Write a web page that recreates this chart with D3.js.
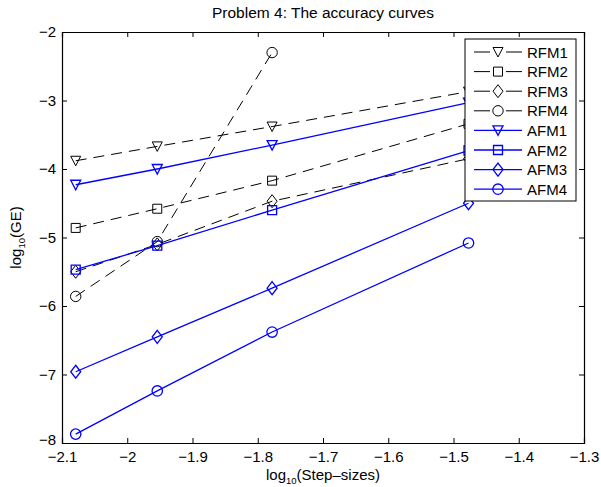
<!DOCTYPE html>
<html>
<head>
<meta charset="utf-8">
<script src="https://cdn.jsdelivr.net/npm/d3@7"></script>
<style>
  body { margin: 0; background: #fff; }
  svg { font-family: "Liberation Sans", Arial, sans-serif; }
</style>
</head>
<body>
<div id="chart"></div>
<script>
// step sizes (log10) and errors (log10)
var stepLog = [-2.079, -1.954, -1.778, -1.477];
var rfm1 = [-3.88, -3.67, -3.38, -2.87];
var rfm2 = [-4.86, -4.58, -4.17, -3.34];
var rfm3 = [-5.50, -5.10, -4.47, -3.85];
var rfm4 = [-5.86, -5.06, -2.30];
var afm1 = [-4.23, -4.00, -3.65, -3.03];
var afm2 = [-5.47, -5.12, -4.60, -3.73];
var afm3 = [-6.96, -6.45, -5.74, -4.50];
var afm4 = [-7.87, -7.24, -6.38, -5.08];
var xTicks = [-2.1, -2, -1.9, -1.8, -1.7, -1.6, -1.5, -1.4, -1.3];
var yTicks = [-8, -7, -6, -5, -4, -3, -2];

var series = [
  {name: "RFM1", vals: rfm1, marker: "tri", kind: "ref"},
  {name: "RFM2", vals: rfm2, marker: "sq", kind: "ref"},
  {name: "RFM3", vals: rfm3, marker: "dia", kind: "ref"},
  {name: "RFM4", vals: rfm4, marker: "circ", kind: "ref"},
  {name: "AFM1", vals: afm1, marker: "tri", kind: "adp"},
  {name: "AFM2", vals: afm2, marker: "sq", kind: "adp"},
  {name: "AFM3", vals: afm3, marker: "dia", kind: "adp"},
  {name: "AFM4", vals: afm4, marker: "circ", kind: "adp"}
];

var W = 601, H = 487;
var margin = {top: 32, right: 17, bottom: 44, left: 62};
var fs = 15;

var svg = d3.select("#chart").append("svg")
  .attr("width", W).attr("height", H);

var x = d3.scaleLinear().domain([-2.1, -1.3]).range([margin.left, W - margin.right]);
var y = d3.scaleLinear().domain([-8, -2]).range([H - margin.bottom, margin.top]);

var fmt = function(v) { return d3.format("")(v).replace("-", "\u2212"); };

// axes (MATLAB style box, ticks inward)
var tk = 5;
svg.append("g")
  .attr("transform", "translate(0," + y(-8) + ")")
  .call(d3.axisBottom(x).tickValues(xTicks).tickSize(-tk).tickPadding(8).tickFormat(fmt));
svg.append("g")
  .attr("transform", "translate(0," + y(-2) + ")")
  .call(d3.axisTop(x).tickValues(xTicks).tickSize(-tk).tickFormat(""));
var yAx = svg.append("g")
  .attr("transform", "translate(" + x(-2.1) + ",0)")
  .call(d3.axisLeft(y).tickValues(yTicks).tickSize(-tk).tickPadding(6).tickFormat(fmt));
svg.append("g")
  .attr("transform", "translate(" + x(-1.3) + ",0)")
  .call(d3.axisRight(y).tickValues(yTicks).tickSize(-tk).tickFormat(""));

svg.selectAll(".domain").attr("stroke", "#000").attr("stroke-width", 1.2);
svg.selectAll(".tick line").attr("stroke", "#000");
svg.selectAll(".tick text").attr("font-size", fs).attr("fill", "#000")
  .attr("font-family", "Liberation Sans, Arial, sans-serif");
// lift the lowest y label a little so it clears the first x label
yAx.selectAll(".tick text").filter(function(d) { return d == -8; }).attr("dy", "0.1em");

// marker shapes
function markerPath(type) {
  if (type == "tri") return "M-5,-4.5L5,-4.5L0,5Z";
  if (type == "sq") return "M-4.5,-4.5L4.5,-4.5L4.5,4.5L-4.5,4.5Z";
  if (type == "dia") return "M0,-6.5L5,0L0,6.5L-5,0Z";
  return d3.arc()({innerRadius: 0, outerRadius: 5.2, startAngle: 0, endAngle: 2 * Math.PI});
}
function colorOf(s) { return s.kind == "ref" ? "#000" : "#0000ff"; }

var line = d3.line()
  .x(function(d, i) { return x(stepLog[i]); })
  .y(function(d) { return y(d); });

var plot = svg.append("g");
series.forEach(function(s) {
  plot.append("path")
    .attr("d", line(s.vals))
    .attr("fill", "none")
    .attr("stroke", colorOf(s))
    .attr("stroke-width", s.kind == "ref" ? 1 : 1.3)
    .attr("stroke-dasharray", s.kind == "ref" ? "11,7" : null);
  plot.selectAll(null)
    .data(s.vals)
    .enter()
    .append("path")
    .attr("transform", function(d, i) { return "translate(" + x(stepLog[i]) + "," + y(d) + ")"; })
    .attr("d", markerPath(s.marker))
    .attr("fill", "none")
    .attr("stroke", colorOf(s))
    .attr("stroke-width", s.kind == "ref" ? 1 : 1.3);
});

// legend
var lg = svg.append("g").attr("transform", "translate(465,39)");
lg.append("rect").attr("width", 111).attr("height", 162)
  .attr("fill", "#fff").attr("stroke", "#000").attr("stroke-width", 1);
var rows = lg.selectAll("g.row").data(series).enter().append("g")
  .attr("transform", function(d, i) { return "translate(0," + (13 + i * 19.6) + ")"; });
rows.each(function(s) {
  var g = d3.select(this);
  if (s.kind == "ref") {
    g.append("line").attr("x1", 9).attr("x2", 25).attr("stroke", "#000");
    g.append("line").attr("x1", 41).attr("x2", 57).attr("stroke", "#000");
  } else {
    g.append("line").attr("x1", 9).attr("x2", 57).attr("stroke", "#0000ff").attr("stroke-width", 1.3);
  }
  g.append("path").attr("transform", "translate(33,0)")
    .attr("d", markerPath(s.marker))
    .attr("fill", "none").attr("stroke", colorOf(s))
    .attr("stroke-width", s.kind == "ref" ? 1 : 1.3);
  g.append("text").attr("x", 62).attr("y", 5.5).attr("font-size", fs)
    .text(s.name);
});

// title and axis labels
svg.append("text").attr("x", (x(-2.1) + x(-1.3)) / 2).attr("y", 18)
  .attr("text-anchor", "middle").attr("font-size", 15.5)
  .text("Problem 4: The accuracy curves");

var xl = svg.append("text").attr("x", (x(-2.1) + x(-1.3)) / 2).attr("y", 480)
  .attr("text-anchor", "middle").attr("font-size", fs);
xl.append("tspan").text("log");
xl.append("tspan").attr("font-size", 9.5).attr("dy", 3.5).text("10");
xl.append("tspan").attr("dy", -3.5).text("(Step\u2013sizes)");

var yl = svg.append("text")
  .attr("transform", "translate(21," + (y(-5)) + ") rotate(-90)")
  .attr("text-anchor", "middle").attr("font-size", fs);
yl.append("tspan").text("log");
yl.append("tspan").attr("font-size", 9.5).attr("dy", 3.5).text("10");
yl.append("tspan").attr("dy", -3.5).text("(GE)");
</script>
</body>
</html>
